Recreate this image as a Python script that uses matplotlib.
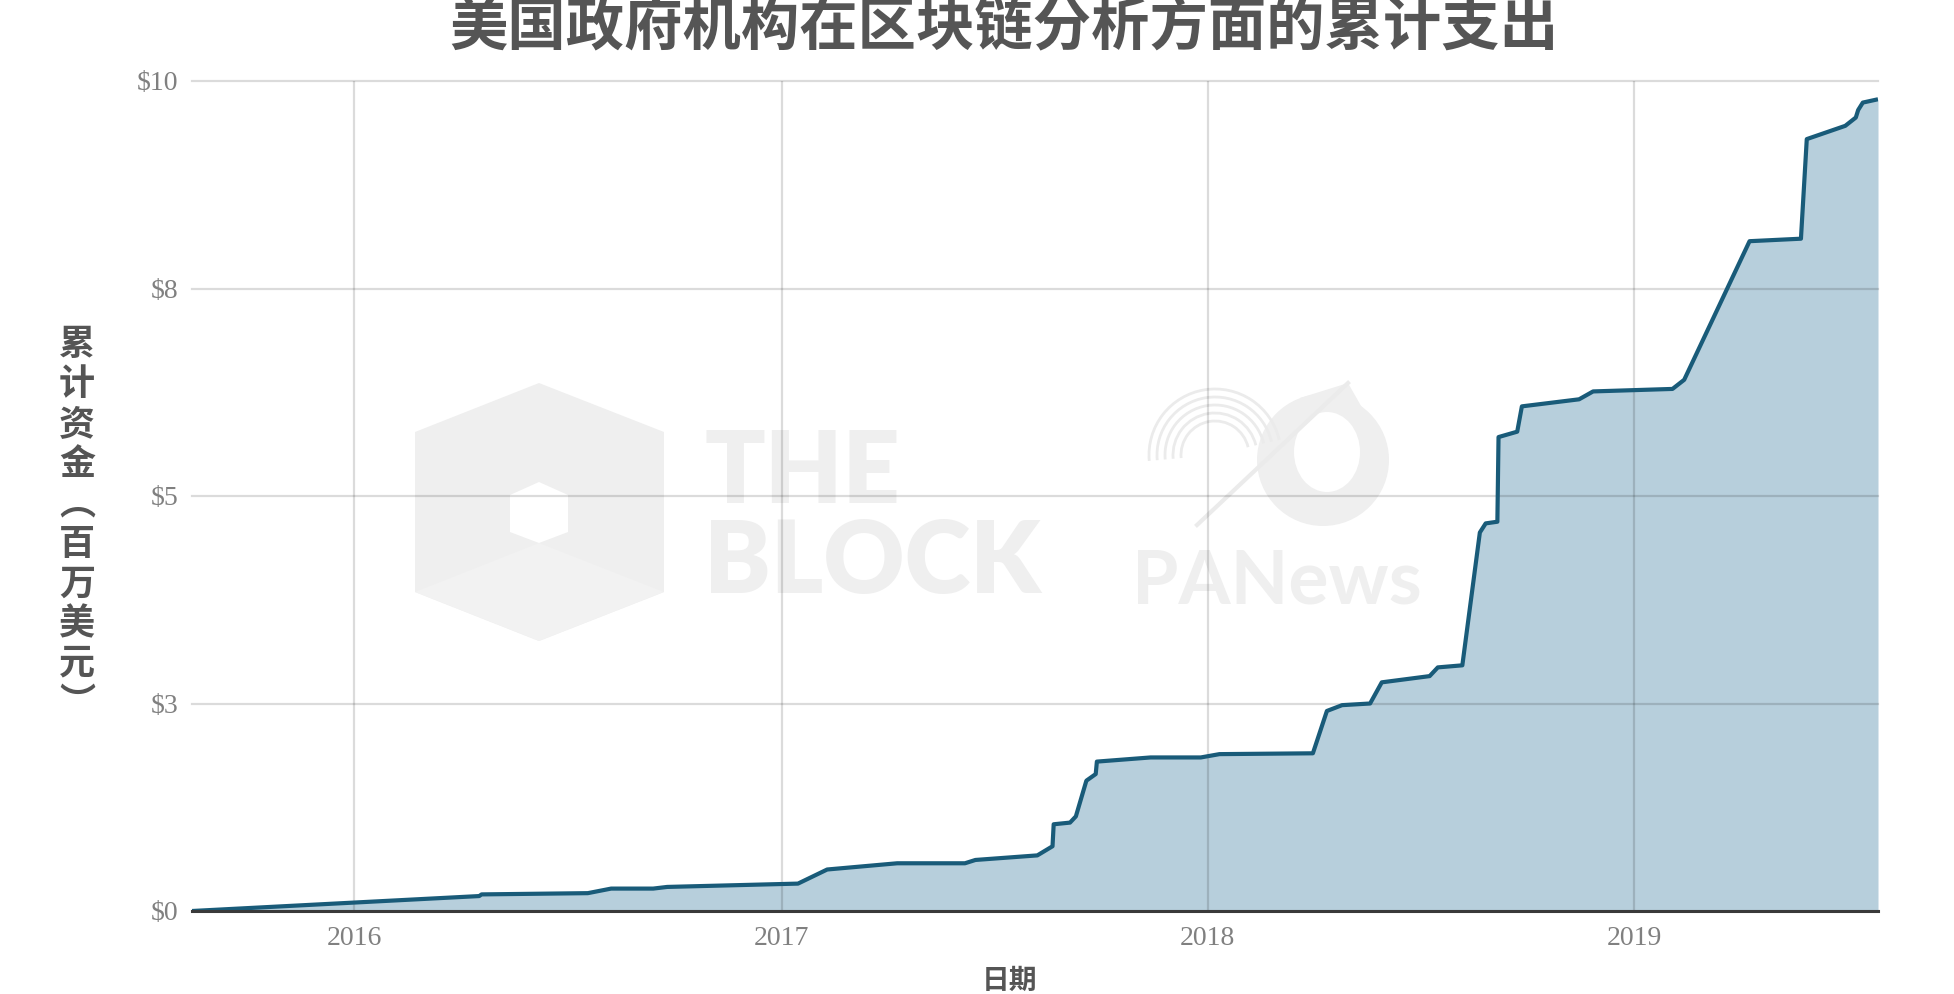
import matplotlib
matplotlib.use("Agg")
import matplotlib.pyplot as plt
import numpy as np
import pandas as pd
from matplotlib.patches import Polygon, Ellipse, Arc
from matplotlib.lines import Line2D

# ---------------- data ----------------
dates = ['2015-08-15', '2016-04-17', '2016-04-19', '2016-07-19', '2016-08-08',
         '2016-09-13', '2016-09-25', '2017-01-15', '2017-02-09', '2017-04-10',
         '2017-06-07', '2017-06-16', '2017-08-08', '2017-08-21', '2017-08-22',
         '2017-09-05', '2017-09-10', '2017-09-19', '2017-09-27', '2017-09-28',
         '2017-11-13', '2017-12-26', '2018-01-11', '2018-04-01', '2018-04-13',
         '2018-04-26', '2018-05-20', '2018-05-30', '2018-07-10', '2018-07-17',
         '2018-08-07', '2018-08-22', '2018-08-27', '2018-09-06', '2018-09-07',
         '2018-09-23', '2018-09-27', '2018-11-15', '2018-11-27', '2019-02-03',
         '2019-02-13', '2019-04-10', '2019-05-24', '2019-05-29', '2019-07-01',
         '2019-07-10', '2019-07-12', '2019-07-16', '2019-07-29']
spend = [0.0, 0.18, 0.20, 0.215, 0.27,
         0.27, 0.29, 0.33, 0.50, 0.575,
         0.575, 0.615, 0.67, 0.78, 1.045,
         1.065, 1.14, 1.57, 1.65, 1.80,
         1.85, 1.85, 1.89, 1.90, 2.41,
         2.48, 2.50, 2.755, 2.83, 2.935,
         2.96, 4.56, 4.67, 4.69, 5.71,
         5.775, 6.08, 6.165, 6.26, 6.29,
         6.40, 8.07, 8.10, 9.30, 9.46,
         9.56, 9.65, 9.74, 9.78]

y_ticks = [0, 2.5, 5, 7.5, 10]
y_tick_labels = ['\\$0', '\\$3', '\\$5', '\\$8', '\\$10']
x_ticks = ['2016-01-01', '2017-01-01', '2018-01-01', '2019-01-01']
x_tick_labels = ['2016', '2017', '2018', '2019']

title = '美国政府机构在区块链分析方面的累计支出'
ylabel_chars = list('累计资金︵百万美元︶')
xlabel = '日期'

CJK = ['Noto Sans CJK SC', 'DejaVu Sans']

# ---------------- figure ----------------
W, H = 1954, 994
fig = plt.figure(figsize=(W / 100, H / 100), dpi=100)
fig.patch.set_facecolor('white')


def fx(px):
    return px / W


def fy(py):
    return 1 - py / H


def P(px, py):
    return (fx(px), fy(py))


ax = fig.add_axes([fx(192), fy(911), fx(1878) - fx(192), fy(81) - fy(911)])

d = pd.to_datetime(dates)
ax.fill_between(d, spend, 0, color='#b7cfdc', linewidth=0, zorder=1)
ax.plot(d, spend, color='#195b79', lw=3.0, zorder=4,
        solid_joinstyle='round', solid_capstyle='butt')

ax.set_xlim(d[0], d[-1])
ax.set_ylim(0, 10)

ax.set_yticks(y_ticks)
ax.set_yticklabels(y_tick_labels)
ax.set_xticks(pd.to_datetime(x_ticks))
ax.set_xticklabels(x_tick_labels)

ax.set_axisbelow(False)
ax.grid(True, color='black', alpha=0.14, lw=1.6)
for gl in ax.get_ygridlines():
    gl.set_clip_on(False)

for s in ['left', 'right', 'top']:
    ax.spines[s].set_visible(False)
ax.spines['bottom'].set_color('#3a3a3a')
ax.spines['bottom'].set_linewidth(2.2)
ax.spines['bottom'].set_zorder(5)

ax.tick_params(axis='both', length=0, labelsize=20, labelcolor='#808080')
ax.tick_params(axis='y', pad=10)
ax.tick_params(axis='x', pad=11)
for lab in ax.get_xticklabels() + ax.get_yticklabels():
    lab.set_fontfamily(['Liberation Serif', 'DejaVu Serif'])

# ---------------- watermarks ----------------
wm = '#efefef'

hexa = Polygon([P(539, 383), P(664, 432), P(664, 592), P(539, 641), P(415, 592), P(415, 432)],
               closed=True, transform=fig.transFigure, facecolor=wm, edgecolor='none', zorder=0.5)
ax.add_patch(hexa)
hexb = Polygon([P(539, 543), P(664, 592), P(539, 641), P(415, 592)],
               closed=True, transform=fig.transFigure, facecolor='#f2f2f2', edgecolor='none', zorder=0.55)
ax.add_patch(hexb)
inner = Polygon([P(539, 482), P(568, 495), P(568, 532), P(539, 543), P(510, 532), P(510, 495)],
                closed=True, transform=fig.transFigure, facecolor='white', edgecolor='none', zorder=0.6)
ax.add_patch(inner)
ax.text(fx(704), fy(503), 'THE', transform=fig.transFigure, fontsize=72, fontweight='heavy',
        family=['Lato', 'DejaVu Sans'], color=wm, ha='left', va='baseline', zorder=0.5)
ax.text(fx(704), fy(593), 'BLOCK', transform=fig.transFigure, fontsize=72, fontweight='heavy',
        family=['Lato', 'DejaVu Sans'], color=wm, ha='left', va='baseline', zorder=0.5)
ax.text(fx(1132), fy(603), 'PANews', transform=fig.transFigure, fontsize=54, fontweight='bold',
        family=['Lato', 'DejaVu Sans'], color=wm, ha='left', va='baseline', zorder=0.5)

# PANews logo (approximate): teardrop ring + concentric arcs + diagonal
outer = Ellipse(P(1323, 460), fx(132), 132 / H, transform=fig.transFigure,
                facecolor=wm, edgecolor='none', zorder=0.5)
ax.add_patch(outer)
tip = Polygon([P(1348, 383), P(1389, 455), P(1300, 398)], closed=True, transform=fig.transFigure,
              facecolor=wm, edgecolor='none', zorder=0.5)
ax.add_patch(tip)
hole = Ellipse(P(1327, 452), fx(66), 80 / H, transform=fig.transFigure,
               facecolor='white', edgecolor='none', zorder=0.6)
ax.add_patch(hole)
ax.add_line(Line2D([fx(1197), fx(1348)], [fy(525), fy(383)], transform=fig.transFigure,
                   color='#ebebeb', lw=3, zorder=0.7))
for r in [132, 116, 100, 84, 68]:
    arc = Arc(P(1215, 455), fx(r), r / H, theta1=25, theta2=190,
              transform=fig.transFigure, color='#ebebeb', lw=2.0, zorder=0.5)
    ax.add_patch(arc)

# ---------------- text ----------------
fig.text(fx(1004), fy(44), title, ha='center', va='baseline', fontsize=42,
         fontweight='bold', color='#555555', family=CJK)
fig.text(fx(1010), fy(989), xlabel, ha='center', va='baseline', fontsize=20,
         fontweight='bold', color='#555555', family=CJK)
for i, ch in enumerate(ylabel_chars):
    fig.text(fx(77), fy(345 + i * 39.8), ch, ha='center', va='center', fontsize=26,
             fontweight='bold', color='#555555', family=CJK)

fig.savefig('out.png', dpi=100, facecolor='white')
